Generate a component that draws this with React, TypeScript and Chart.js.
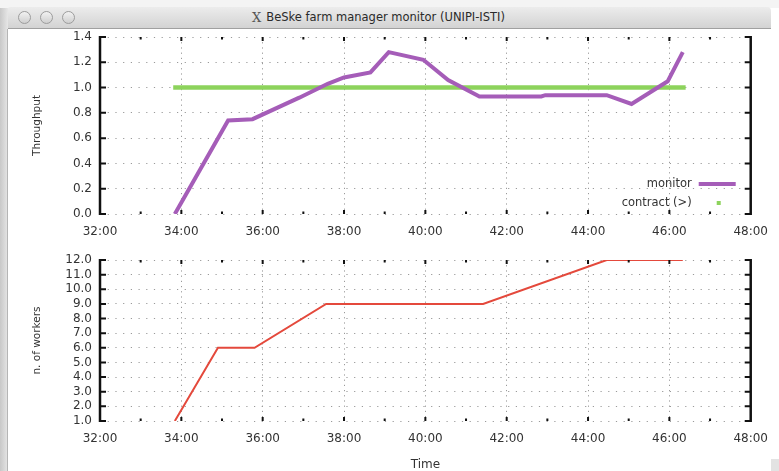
import React, { useEffect, useRef } from "react";
import { Chart, registerables } from "chart.js";

Chart.register(...registerables);

// ---- data (time in minutes) ----
const xTickMinutes = [32, 34, 36, 38, 40, 42, 44, 46, 48];
const monitorTime = [33.84, 35.15, 35.75, 36.9, 37.6, 38.0, 38.65, 39.1, 39.95, 40.56, 41.33, 42.85, 42.95, 44.46, 45.07, 45.96, 46.33];
const monitorValues = [0.0, 0.74, 0.75, 0.92, 1.03, 1.08, 1.12, 1.28, 1.22, 1.06, 0.93, 0.93, 0.94, 0.94, 0.87, 1.05, 1.28];
const contractTime = [33.8, 46.4];
const contractValues = [1.0, 1.0];
const workersTime = [33.84, 34.9, 35.8, 37.56, 41.42, 44.46, 46.33];
const workersValues = [1, 6, 6, 9, 9, 12, 12];
const throughputTicks = [0, 0.2, 0.4, 0.6, 0.8, 1.0, 1.2, 1.4];
const workerTicks = [1, 2, 3, 4, 5, 6, 7, 8, 9, 10, 11, 12];

const FONT = "'DejaVu Sans', sans-serif";
const PURPLE = "#a55db8";
const GREEN = "#8dd35c";
const RED = "#e4493c";

const framePlugin = {
  id: "gnuFrame",
  afterDatasetsDraw(chart: any) {
    const { ctx, chartArea } = chart;
    const { left, right, top, bottom } = chartArea;
    const x = chart.scales.x;
    const y = chart.scales.y;
    ctx.save();
    ctx.fillStyle = "#111";
    ctx.strokeStyle = "#111";
    for (let m = Math.ceil(x.min) + 1; m < x.max; m++) {
      const px = x.getPixelForValue(m);
      const len = m % 2 === 0 ? 4 : 2.5;
      ctx.fillRect(px - 1, top, 2, len);
      ctx.fillRect(px - 1, bottom - len, 2, len);
    }
    ctx.lineWidth = 2.5;
    ctx.beginPath();
    ctx.moveTo(left, top - 1);
    ctx.lineTo(left, bottom + 1);
    ctx.moveTo(right, top - 1);
    ctx.lineTo(right, bottom + 1);
    ctx.stroke();
    ctx.lineWidth = 2;
    ctx.beginPath();
    y.ticks.forEach((t: any) => {
      const py = y.getPixelForValue(t.value);
      ctx.moveTo(left, py);
      ctx.lineTo(left + 6, py);
      ctx.moveTo(right, py);
      ctx.lineTo(right - 6, py);
    });
    ctx.stroke();
    ctx.restore();
  },
};

const legendPlugin = {
  id: "gnuLegend",
  afterDatasetsDraw(chart: any) {
    const { ctx, chartArea } = chart;
    const textRight = chartArea.right - 59;
    const rows = [chartArea.bottom - 30, chartArea.bottom - 11];
    ctx.save();
    ctx.font = `11.5px ${FONT}`;
    ctx.fillStyle = "#333";
    ctx.textAlign = "right";
    ctx.textBaseline = "middle";
    chart.data.datasets.forEach((ds: any, i: number) => {
      const yy = rows[i];
      ctx.fillText(ds.label, textRight, yy);
      if (i === 0) {
        ctx.strokeStyle = ds.borderColor;
        ctx.lineWidth = 4;
        ctx.beginPath();
        ctx.moveTo(textRight + 7, yy);
        ctx.lineTo(textRight + 44, yy);
        ctx.stroke();
      } else {
        ctx.fillStyle = ds.borderColor;
        ctx.fillRect(textRight + 25, yy - 2, 4, 4);
        ctx.fillStyle = "#333";
      }
    });
    ctx.restore();
  },
};

function makeXScale(labelPad: number, height: number, title?: string) {
  return {
    type: "linear",
    min: xTickMinutes[0],
    max: xTickMinutes[xTickMinutes.length - 1],
    afterBuildTicks: (s: any) => {
      s.ticks = xTickMinutes.map((v) => ({ value: v }));
    },
    afterFit: (s: any) => {
      s.height = height;
    },
    ticks: {
      autoSkip: false,
      maxRotation: 0,
      padding: labelPad,
      color: "#333",
      font: { family: FONT, size: 12 },
      callback: (v: any) => `${v}:00`,
    },
    grid: { color: "#9a9a9a", lineWidth: 1, drawTicks: false },
    border: { display: false, dash: [1.2, 4] },
    title: title
      ? {
          display: true,
          text: title,
          color: "#333",
          font: { family: FONT, size: 12, lineHeight: 1 },
          padding: { top: 0, bottom: 0 },
        }
      : { display: false },
  };
}

function makeYScale(ticksArr: number[], title: string) {
  return {
    type: "linear",
    min: ticksArr[0],
    max: ticksArr[ticksArr.length - 1],
    afterBuildTicks: (s: any) => {
      s.ticks = ticksArr.map((v) => ({ value: v }));
    },
    afterFit: (s: any) => {
      s.width = 100;
    },
    ticks: {
      autoSkip: false,
      padding: 8,
      color: "#333",
      font: { family: FONT, size: 12 },
      callback: (v: any) => Number(v).toFixed(1),
    },
    grid: { color: "#9a9a9a", lineWidth: 1, drawTicks: false },
    border: { display: false, dash: [1.2, 6.5] },
    title: {
      display: true,
      text: title,
      color: "#333",
      font: { family: FONT, size: 10.5, lineHeight: 1 },
      padding: { top: 32, bottom: 0 },
    },
  };
}

function ThroughputChart() {
  const ref = useRef<HTMLCanvasElement>(null);
  useEffect(() => {
    const chart = new Chart(ref.current as HTMLCanvasElement, {
      type: "line",
      data: {
        datasets: [
          {
            label: "monitor",
            data: monitorTime.map((t, i) => ({ x: t, y: monitorValues[i] })),
            borderColor: PURPLE,
            backgroundColor: PURPLE,
            borderWidth: 4,
            pointRadius: 0,
            tension: 0,
          },
          {
            label: "contract (>)",
            data: contractTime.map((t, i) => ({ x: t, y: contractValues[i] })),
            borderColor: GREEN,
            backgroundColor: GREEN,
            borderWidth: 4.5,
            pointRadius: 0,
            tension: 0,
          },
        ],
      },
      options: {
        responsive: false,
        animation: false,
        layout: { padding: { top: 37, right: 22, left: 0, bottom: 0 } },
        plugins: { legend: { display: false }, tooltip: { enabled: false } },
        scales: {
          x: makeXScale(11, 32) as any,
          y: makeYScale(throughputTicks, "Throughput") as any,
        },
      },
      plugins: [framePlugin, legendPlugin],
    });
    return () => chart.destroy();
  }, []);
  return <canvas ref={ref} width={779} height={246} style={{ position: "absolute", left: 0, top: 0, width: 779, height: 246 }} />;
}

function WorkersChart() {
  const ref = useRef<HTMLCanvasElement>(null);
  useEffect(() => {
    const chart = new Chart(ref.current as HTMLCanvasElement, {
      type: "line",
      data: {
        datasets: [
          {
            label: "n. of workers",
            data: workersTime.map((t, i) => ({ x: t, y: workersValues[i] })),
            borderColor: RED,
            backgroundColor: RED,
            borderWidth: 2,
            pointRadius: 0,
            tension: 0,
          },
        ],
      },
      options: {
        responsive: false,
        animation: false,
        layout: { padding: { top: 24, right: 22, left: 0, bottom: 0 } },
        plugins: { legend: { display: false }, tooltip: { enabled: false } },
        scales: {
          x: makeXScale(11, 50, "Time") as any,
          y: makeYScale(workerTicks, "n. of workers") as any,
        },
      },
      plugins: [framePlugin],
    });
    return () => chart.destroy();
  }, []);
  return <canvas ref={ref} width={779} height={235} style={{ position: "absolute", left: 0, top: 236, width: 779, height: 235 }} />;
}

function Circle({ cx }: { cx: number }) {
  return (
    <div
      style={{
        position: "absolute",
        left: cx - 6.5,
        top: 10.5,
        width: 11,
        height: 11,
        borderRadius: "50%",
        border: "1px solid #9c9c9c",
        background: "linear-gradient(#f2f2f2, #cfcfcf)",
      }}
    />
  );
}

export default function App() {
  return (
    <div style={{ position: "absolute", left: 0, top: 0, width: 779, height: 471, overflow: "hidden", background: "#fff", fontFamily: FONT }}>
      <div style={{ position: "absolute", left: 0, top: 0, width: 779, height: 8, background: "#f4f4f4" }} />
      <div
        style={{
          position: "absolute",
          left: 7,
          top: 7,
          width: 764,
          height: 21,
          background: "linear-gradient(#ececec, #d3d3d3)",
          borderBottom: "1px solid #a0a0a0",
          borderTopLeftRadius: 4,
          borderTopRightRadius: 4,
        }}
      />
      <Circle cx={24} />
      <Circle cx={46} />
      <Circle cx={68} />
      <div style={{ position: "absolute", left: 252, top: 9, height: 16, display: "flex", alignItems: "center", whiteSpace: "nowrap" }}>
        <span style={{ fontFamily: "'DejaVu Serif', serif", fontSize: 13, color: "#555", marginRight: 5 }}>X</span>
        <span style={{ fontSize: 11.5, color: "#2a2a2a" }}>BeSke farm manager monitor (UNIPI-ISTI)</span>
      </div>
      <div style={{ position: "absolute", left: 0, top: 8, width: 8, height: 463, background: "linear-gradient(to right, #c8c8c8, #e6e6e6)" }} />
      <div style={{ position: "absolute", left: 7, top: 29, width: 1, height: 442, background: "#b5b5b5" }} />
      <div style={{ position: "absolute", left: 771, top: 459, width: 8, height: 12, background: "#e3e3e3" }} />
      <ThroughputChart />
      <WorkersChart />
    </div>
  );
}
